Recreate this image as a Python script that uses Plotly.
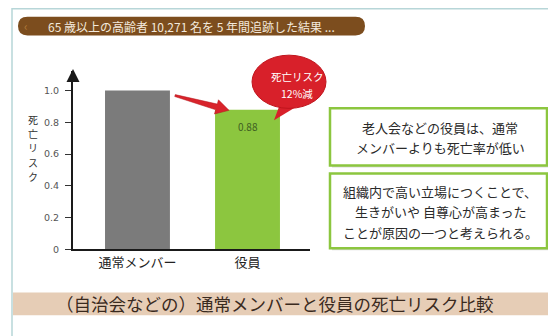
import plotly.graph_objects as go
import numpy as np

# ---- data ----
categories = ["通常メンバー", "役員"]
risk_values = [1.0, 0.88]
bar_colors = ["#7b7b7b", "#8cc63f"]
y_tick_vals = [0, 0.2, 0.4, 0.6, 0.8, 1.0]
y_tick_text = ["0", "0.2", "0.4", "0.6", "0.8", "1.0"]
title_text = "65 歳以上の高齢者 10,271 名を 5 年間追跡した結果 ..."
bottom_title = "（自治会などの）通常メンバーと役員の死亡リスク比較"
y_title = "死亡リスク"
bubble_lines = ["死亡リスク", "12%減"]
box1_lines = ["老人会などの役員は、通常", "メンバーよりも死亡率が低い"]
box2_lines = ["組織内で高い立場につくことで、", "生きがいや 自尊心が高まった", "ことが原因の一つと考えられる。"]

W, H = 548, 336
FONT = "Noto Sans CJK JP"


def px(x):
    return x / W


def py(y):
    return 1 - y / H


def path_from(points, closed=True):
    s = "M " + " L ".join(f"{px(x):.5f},{py(y):.5f}" for x, y in points)
    return s + (" Z" if closed else "")


fig = go.Figure()
fig.add_trace(go.Bar(
    x=categories, y=risk_values, marker=dict(color=bar_colors, line=dict(width=0)),
    width=0.59, hoverinfo="skip", showlegend=False,
))

shapes = []
annotations = []

# outer frame
shapes.append(dict(type="rect", xref="paper", yref="paper", x0=px(12), x1=1.02, y0=-0.02, y1=py(9),
                   line=dict(color="#b7d6d8", width=1.5), fillcolor="rgba(0,0,0,0)", layer="below"))

# title pill (rounded)
x0, x1, y0, y1 = 18, 365, 17, 36
r = (y1 - y0) / 2
pill = (f"M {px(x0 + r)},{py(y0)} L {px(x1 - r)},{py(y0)} "
        f"Q {px(x1)},{py(y0)} {px(x1)},{py(y0 + r)} Q {px(x1)},{py(y1)} {px(x1 - r)},{py(y1)} "
        f"L {px(x0 + r)},{py(y1)} Q {px(x0)},{py(y1)} {px(x0)},{py(y0 + r)} "
        f"Q {px(x0)},{py(y0)} {px(x0 + r)},{py(y0)} Z")
shapes.append(dict(type="path", xref="paper", yref="paper", path=pill, fillcolor="#7c4d1e",
                   line=dict(width=0)))
annotations.append(dict(text=title_text, x=px(46), y=py(26.5), xref="paper", yref="paper",
                        xanchor="left", yanchor="middle", showarrow=False,
                        font=dict(family=FONT, size=12, color="#f3e9dc")))
annotations.append(dict(text="‹", x=px(26), y=py(26), xref="paper", yref="paper",
                        xanchor="center", yanchor="middle", showarrow=False,
                        font=dict(family=FONT, size=12, color="#b07a3a")))

# bottom banner
shapes.append(dict(type="rect", xref="paper", yref="paper", x0=px(13), x1=1.0, y0=py(320), y1=py(297),
                   fillcolor="#e6cdb6", line=dict(width=0)))
annotations.append(dict(text=bottom_title, x=px(275), y=py(308.5), xref="paper", yref="paper",
                        xanchor="center", yanchor="middle", showarrow=False,
                        font=dict(family=FONT, size=17.5, color="#3a2a1e")))

# y-axis title stacked vertically (one annotation per character)
for i, ch in enumerate(y_title):
    annotations.append(dict(text=ch, x=px(33), y=py(121 + 14.6 * i), xref="paper", yref="paper",
                            xanchor="center", yanchor="middle", showarrow=False,
                            font=dict(family=FONT, size=10, color="#333333")))

# y-axis arrowhead
annotations.append(dict(text="", x=px(73), y=py(70), xref="paper", yref="paper",
                        ax=0, ay=14, showarrow=True, arrowhead=2, arrowsize=1.3, arrowwidth=2,
                        arrowcolor="#1a1a1a"))

# value label on green bar
annotations.append(dict(text=f"{risk_values[1]:.2f}", x=categories[1], y=risk_values[1], xref="x", yref="y",
                        yshift=-17, showarrow=False, xanchor="center", yanchor="middle",
                        font=dict(family=FONT, size=10, color="#3f5f22")))

# red tapered arrow
tail = np.array([175.0, 97.0])
tip = np.array([229.0, 112.0])
d = tip - tail
L = np.linalg.norm(d)
u = d / L
n = np.array([-u[1], u[0]])
base = tail + u * (L - 13)
pts = [tail + n * 1.0, base + n * 3.0, base + n * 7.5, tip, base - n * 7.5, base - n * 3.0, tail - n * 1.0]
shapes.append(dict(type="path", xref="paper", yref="paper", path=path_from([tuple(p) for p in pts]),
                   fillcolor="#d8232b", line=dict(color="#b5161d", width=0.5)))

# speech bubble
shapes.append(dict(type="path", xref="paper", yref="paper",
                   path=path_from([(281, 103), (300, 106), (274, 122)]),
                   fillcolor="#d8202a", line=dict(width=0)))
shapes.append(dict(type="circle", xref="paper", yref="paper", x0=px(252), x1=px(326), y0=py(110), y1=py(56),
                   fillcolor="#d8202a", line=dict(color="#c0141c", width=1)))
for i, t in enumerate(bubble_lines):
    annotations.append(dict(text=t, x=px(297), y=py(78 + 17 * i), xref="paper", yref="paper",
                            xanchor="center", yanchor="middle", showarrow=False,
                            font=dict(family=FONT, size=10.5, color="#ffffff")))

# text boxes
for (bx0, by0, bx1, by1), lines, ys in [
    ((330, 110, 547, 168), box1_lines, [129.5, 149.5]),
    ((330, 176, 547, 252), box2_lines, [194, 215, 236]),
]:
    shapes.append(dict(type="rect", xref="paper", yref="paper", x0=px(bx0 + 2), x1=px(bx1 + 2),
                       y0=py(by1 + 2), y1=py(by0 + 2), fillcolor="#d9d9d9", line=dict(width=0)))
    shapes.append(dict(type="rect", xref="paper", yref="paper", x0=px(bx0), x1=px(bx1),
                       y0=py(by1), y1=py(by0), fillcolor="#ffffff", line=dict(color="#8cc63f", width=2.5)))
    for t, yy in zip(lines, ys):
        annotations.append(dict(text=t, x=px(440), y=py(yy), xref="paper", yref="paper",
                                xanchor="center", yanchor="middle", showarrow=False,
                                font=dict(family=FONT, size=13, color="#2a2a2a")))

fig.update_layout(
    width=W, height=H, autosize=False,
    margin=dict(l=0, r=0, t=0, b=0),
    paper_bgcolor="#ffffff", plot_bgcolor="#ffffff",
    shapes=shapes, annotations=annotations,
    font=dict(family=FONT),
    xaxis=dict(domain=[px(73), px(310)], range=[-0.586, 1.568], showline=True, linecolor="#1a1a1a",
               linewidth=2, showgrid=False, zeroline=False, ticks="",
               tickfont=dict(family=FONT, size=13, color="#222222")),
    yaxis=dict(domain=[py(253), py(72)], range=[0, 1.124], showline=True, linecolor="#1a1a1a",
               linewidth=2, showgrid=False, zeroline=False, tickvals=y_tick_vals, ticktext=y_tick_text,
               ticks="outside", ticklen=6, tickcolor="#333333", ticklabelstandoff=4,
               tickfont=dict(family="DejaVu Sans", size=9.5, color="#555555")),
)

fig.write_html("out.html")
